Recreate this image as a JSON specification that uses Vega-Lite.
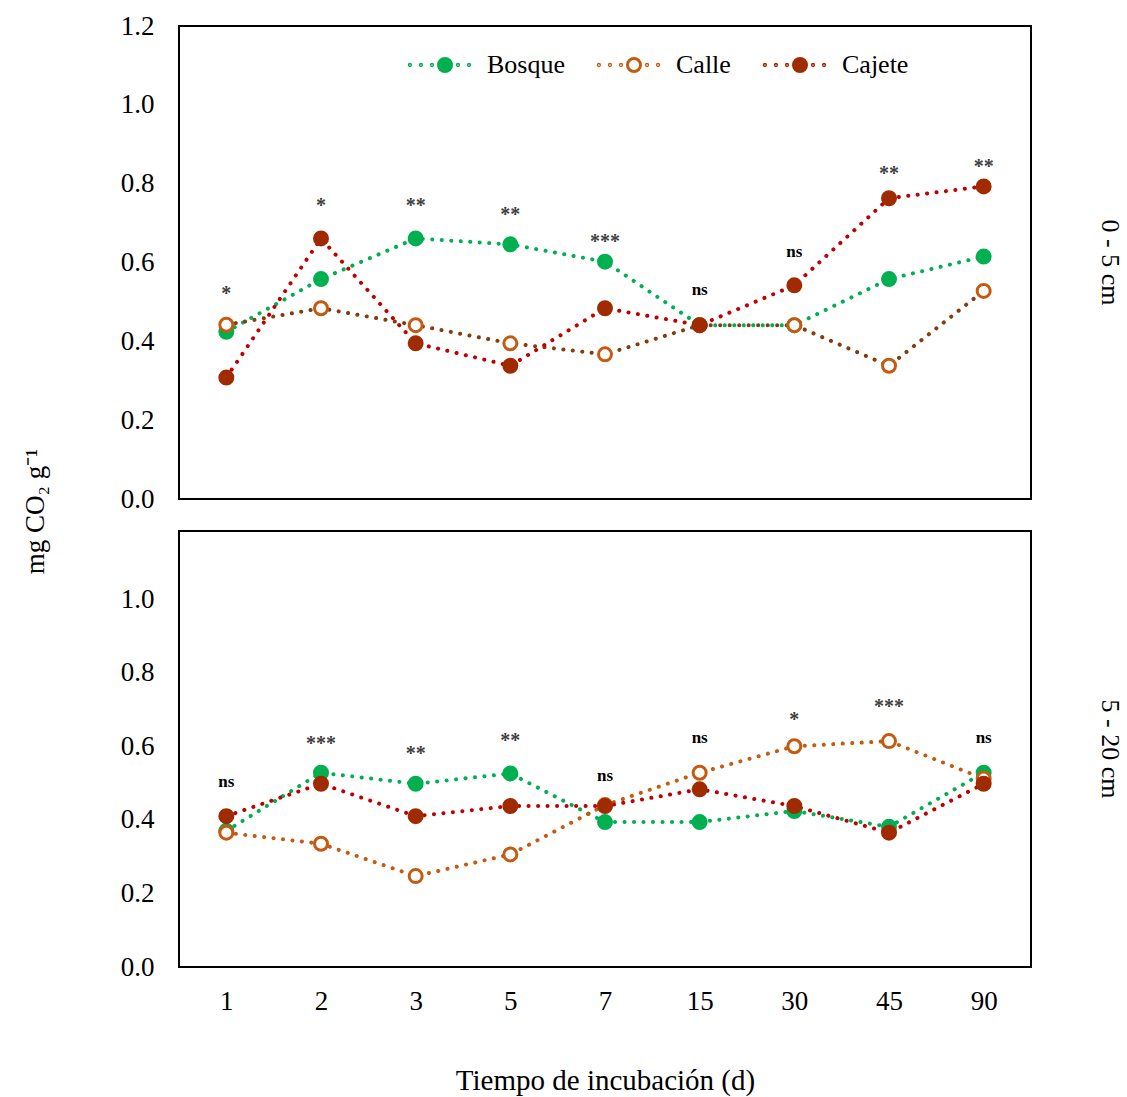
{
  "$schema": "https://vega.github.io/schema/vega-lite/v6.json",
  "background": "white",
  "padding": {"left": 20, "top": 11, "right": 5, "bottom": 5},
  "bounds": "flush",
  "spacing": 32,
  "config": {
    "view": {"stroke": "black", "strokeWidth": 2},
    "font": "Liberation Serif",
    "axis": {"labelFont": "Liberation Serif", "titleFont": "Liberation Serif", "labelColor": "black", "titleColor": "black", "grid": false, "ticks": false, "domain": false, "labelFontSize": 27, "titleFontSize": 27, "titleFontWeight": "normal"},
    "legend": {"orient": "none", "legendX": 253, "legendY": 26, "direction": "horizontal",
               "symbolType": "M-1,0A1,1,0,1,0,1,0A1,1,0,1,0,-1,0Z M-5.5,0A0.1,0.1,0,1,0,-5.3,0A0.1,0.1,0,1,0,-5.5,0Z M-3.8,0A0.1,0.1,0,1,0,-3.6,0A0.1,0.1,0,1,0,-3.8,0Z M-2.1,0A0.1,0.1,0,1,0,-1.9,0A0.1,0.1,0,1,0,-2.1,0Z M1.9,0A0.1,0.1,0,1,0,2.1,0A0.1,0.1,0,1,0,1.9,0Z M3.6,0A0.1,0.1,0,1,0,3.8,0A0.1,0.1,0,1,0,3.6,0Z",
               "symbolSize": 169, "symbolStrokeWidth": 3, "labelFont": "Liberation Serif", "labelFontSize": 26, "labelColor": "black",
               "labelOffset": 29, "columnPadding": 27, "padding": 0, "symbolOpacity": 1}
  },
  "datasets": {
    "series": [
      {"prof": "0 - 5 cm", "dia": 1, "serie": "Bosque", "co2": 0.424},
      {"prof": "0 - 5 cm", "dia": 2, "serie": "Bosque", "co2": 0.558},
      {"prof": "0 - 5 cm", "dia": 3, "serie": "Bosque", "co2": 0.661},
      {"prof": "0 - 5 cm", "dia": 5, "serie": "Bosque", "co2": 0.646},
      {"prof": "0 - 5 cm", "dia": 7, "serie": "Bosque", "co2": 0.602},
      {"prof": "0 - 5 cm", "dia": 15, "serie": "Bosque", "co2": 0.441},
      {"prof": "0 - 5 cm", "dia": 30, "serie": "Bosque", "co2": 0.441},
      {"prof": "0 - 5 cm", "dia": 45, "serie": "Bosque", "co2": 0.558},
      {"prof": "0 - 5 cm", "dia": 90, "serie": "Bosque", "co2": 0.615},
      {"prof": "0 - 5 cm", "dia": 1, "serie": "Calle", "co2": 0.442},
      {"prof": "0 - 5 cm", "dia": 2, "serie": "Calle", "co2": 0.484},
      {"prof": "0 - 5 cm", "dia": 3, "serie": "Calle", "co2": 0.441},
      {"prof": "0 - 5 cm", "dia": 5, "serie": "Calle", "co2": 0.395},
      {"prof": "0 - 5 cm", "dia": 7, "serie": "Calle", "co2": 0.367},
      {"prof": "0 - 5 cm", "dia": 15, "serie": "Calle", "co2": 0.441},
      {"prof": "0 - 5 cm", "dia": 30, "serie": "Calle", "co2": 0.441},
      {"prof": "0 - 5 cm", "dia": 45, "serie": "Calle", "co2": 0.338},
      {"prof": "0 - 5 cm", "dia": 90, "serie": "Calle", "co2": 0.528},
      {"prof": "0 - 5 cm", "dia": 1, "serie": "Cajete", "co2": 0.308},
      {"prof": "0 - 5 cm", "dia": 2, "serie": "Cajete", "co2": 0.661},
      {"prof": "0 - 5 cm", "dia": 3, "serie": "Cajete", "co2": 0.395},
      {"prof": "0 - 5 cm", "dia": 5, "serie": "Cajete", "co2": 0.338},
      {"prof": "0 - 5 cm", "dia": 7, "serie": "Cajete", "co2": 0.484},
      {"prof": "0 - 5 cm", "dia": 15, "serie": "Cajete", "co2": 0.441},
      {"prof": "0 - 5 cm", "dia": 30, "serie": "Cajete", "co2": 0.542},
      {"prof": "0 - 5 cm", "dia": 45, "serie": "Cajete", "co2": 0.763},
      {"prof": "0 - 5 cm", "dia": 90, "serie": "Cajete", "co2": 0.793},
      {"prof": "5 - 20 cm", "dia": 1, "serie": "Bosque", "co2": 0.37},
      {"prof": "5 - 20 cm", "dia": 2, "serie": "Bosque", "co2": 0.528},
      {"prof": "5 - 20 cm", "dia": 3, "serie": "Bosque", "co2": 0.498},
      {"prof": "5 - 20 cm", "dia": 5, "serie": "Bosque", "co2": 0.526},
      {"prof": "5 - 20 cm", "dia": 7, "serie": "Bosque", "co2": 0.394},
      {"prof": "5 - 20 cm", "dia": 15, "serie": "Bosque", "co2": 0.394},
      {"prof": "5 - 20 cm", "dia": 30, "serie": "Bosque", "co2": 0.424},
      {"prof": "5 - 20 cm", "dia": 45, "serie": "Bosque", "co2": 0.381},
      {"prof": "5 - 20 cm", "dia": 90, "serie": "Bosque", "co2": 0.528},
      {"prof": "5 - 20 cm", "dia": 1, "serie": "Calle", "co2": 0.365},
      {"prof": "5 - 20 cm", "dia": 2, "serie": "Calle", "co2": 0.335},
      {"prof": "5 - 20 cm", "dia": 3, "serie": "Calle", "co2": 0.247},
      {"prof": "5 - 20 cm", "dia": 5, "serie": "Calle", "co2": 0.306},
      {"prof": "5 - 20 cm", "dia": 7, "serie": "Calle", "co2": 0.44},
      {"prof": "5 - 20 cm", "dia": 15, "serie": "Calle", "co2": 0.528},
      {"prof": "5 - 20 cm", "dia": 30, "serie": "Calle", "co2": 0.6},
      {"prof": "5 - 20 cm", "dia": 45, "serie": "Calle", "co2": 0.614},
      {"prof": "5 - 20 cm", "dia": 90, "serie": "Calle", "co2": 0.512},
      {"prof": "5 - 20 cm", "dia": 1, "serie": "Cajete", "co2": 0.41},
      {"prof": "5 - 20 cm", "dia": 2, "serie": "Cajete", "co2": 0.498},
      {"prof": "5 - 20 cm", "dia": 3, "serie": "Cajete", "co2": 0.41},
      {"prof": "5 - 20 cm", "dia": 5, "serie": "Cajete", "co2": 0.4375},
      {"prof": "5 - 20 cm", "dia": 7, "serie": "Cajete", "co2": 0.4375},
      {"prof": "5 - 20 cm", "dia": 15, "serie": "Cajete", "co2": 0.483},
      {"prof": "5 - 20 cm", "dia": 30, "serie": "Cajete", "co2": 0.4375},
      {"prof": "5 - 20 cm", "dia": 45, "serie": "Cajete", "co2": 0.365},
      {"prof": "5 - 20 cm", "dia": 90, "serie": "Cajete", "co2": 0.498}
    ],
    "sig": [
      {"prof": "0 - 5 cm", "dia": 1, "label": "*", "pos": 0.533},
      {"prof": "0 - 5 cm", "dia": 2, "label": "*", "pos": 0.756},
      {"prof": "0 - 5 cm", "dia": 3, "label": "**", "pos": 0.756},
      {"prof": "0 - 5 cm", "dia": 5, "label": "**", "pos": 0.733},
      {"prof": "0 - 5 cm", "dia": 7, "label": "***", "pos": 0.665},
      {"prof": "0 - 5 cm", "dia": 15, "label": "ns", "pos": 0.528},
      {"prof": "0 - 5 cm", "dia": 30, "label": "ns", "pos": 0.623},
      {"prof": "0 - 5 cm", "dia": 45, "label": "**", "pos": 0.837},
      {"prof": "0 - 5 cm", "dia": 90, "label": "**", "pos": 0.854},
      {"prof": "5 - 20 cm", "dia": 1, "label": "ns", "pos": 0.5},
      {"prof": "5 - 20 cm", "dia": 2, "label": "***", "pos": 0.619},
      {"prof": "5 - 20 cm", "dia": 3, "label": "**", "pos": 0.593},
      {"prof": "5 - 20 cm", "dia": 5, "label": "**", "pos": 0.628},
      {"prof": "5 - 20 cm", "dia": 7, "label": "ns", "pos": 0.516},
      {"prof": "5 - 20 cm", "dia": 15, "label": "ns", "pos": 0.62},
      {"prof": "5 - 20 cm", "dia": 30, "label": "*", "pos": 0.684},
      {"prof": "5 - 20 cm", "dia": 45, "label": "***", "pos": 0.721},
      {"prof": "5 - 20 cm", "dia": 90, "label": "ns", "pos": 0.62}
    ]
  },
  "resolve": {"scale": {"color": "independent", "y": "independent"}},
  "vconcat": [
    {
      "width": 852,
      "height": 473,
      "title": {"text": "0 - 5 cm", "orient": "right", "anchor": "middle", "angle": 90, "offset": 53, "baseline": "middle", "fontSize": 26, "fontWeight": "normal", "font": "Liberation Serif", "color": "black"},
      "layer": [
        {
          "data": {"name": "series"},
          "transform": [{"filter": "datum.prof == '0 - 5 cm'"}],
          "mark": {"type": "line", "strokeWidth": 4, "strokeDash": [0.1, 9.4], "strokeCap": "round"},
          "encoding": {
            "x": {"field": "dia", "type": "ordinal", "scale": {"type": "point", "padding": 0.5}, "axis": null},
            "y": {"field": "co2", "type": "quantitative", "scale": {"domain": [0, 1.2], "nice": false},
                  "axis": {"values": [0, 0.2, 0.4, 0.6, 0.8, 1.0, 1.2], "format": ".1f", "labelPadding": 25,
                           "title": "mg CO₂ g⁻¹", "titleX": -144, "titleY": 485, "titleAngle": -90, "titleAlign": "center", "titleBaseline": "middle"}},
            "color": {"field": "serie", "type": "nominal", "scale": {"domain": ["Bosque", "Calle", "Cajete"], "range": ["#00B050", "#843C0C", "#C00000"]}, "legend": null}
          }
        },
        {
          "data": {"name": "series"},
          "transform": [{"filter": "datum.prof == '0 - 5 cm'"}],
          "mark": {"type": "point", "shape": "circle", "filled": true, "size": 169, "strokeWidth": 3, "opacity": 1},
          "encoding": {
            "x": {"field": "dia", "type": "ordinal"},
            "y": {"field": "co2", "type": "quantitative"},
            "fill": {"field": "serie", "type": "nominal", "title": null, "scale": {"domain": ["Bosque", "Calle", "Cajete"], "range": ["#00B050", "#FFFFFF", "#A02B00"]}},
            "stroke": {"field": "serie", "type": "nominal", "title": null, "scale": {"domain": ["Bosque", "Calle", "Cajete"], "range": ["#00B050", "#C55A11", "#A02B00"]}}
          }
        },
        {
          "data": {"name": "sig"},
          "transform": [{"filter": "datum.prof == '0 - 5 cm' && datum.label != 'ns'"}],
          "mark": {"type": "text", "font": "Liberation Serif", "fontSize": 20, "fontWeight": "bold", "color": "#404040", "baseline": "middle", "dy": 5},
          "encoding": {
            "x": {"field": "dia", "type": "ordinal"},
            "y": {"field": "pos", "type": "quantitative"},
            "text": {"field": "label"}
          }
        },
        {
          "data": {"name": "sig"},
          "transform": [{"filter": "datum.prof == '0 - 5 cm' && datum.label == 'ns'"}],
          "mark": {"type": "text", "font": "Liberation Serif", "fontSize": 17, "fontWeight": "bold", "color": "black", "baseline": "middle", "dy": -1},
          "encoding": {
            "x": {"field": "dia", "type": "ordinal"},
            "y": {"field": "pos", "type": "quantitative"},
            "text": {"field": "label"}
          }
        }
      ]
    },
    {
      "width": 852,
      "height": 436,
      "title": {"text": "5 - 20 cm", "orient": "right", "anchor": "middle", "angle": 90, "offset": 53, "baseline": "middle", "fontSize": 26, "fontWeight": "normal", "font": "Liberation Serif", "color": "black"},
      "layer": [
        {
          "data": {"name": "series"},
          "transform": [{"filter": "datum.prof == '5 - 20 cm'"}],
          "mark": {"type": "line", "strokeWidth": 4, "strokeDash": [0.1, 9.4], "strokeCap": "round"},
          "encoding": {
            "x": {"field": "dia", "type": "ordinal", "scale": {"type": "point", "padding": 0.5},
                  "axis": {"labelAngle": 0, "labelPadding": 21, "title": "Tiempo de incubación (d)", "titlePadding": 52, "titleFontSize": 29}},
            "y": {"field": "co2", "type": "quantitative", "scale": {"domain": [0, 1.185], "nice": false},
                  "axis": {"values": [0, 0.2, 0.4, 0.6, 0.8, 1.0], "format": ".1f", "labelPadding": 25, "title": null}},
            "color": {"field": "serie", "type": "nominal", "scale": {"domain": ["Bosque", "Calle", "Cajete"], "range": ["#00B050", "#C55A11", "#C00000"]}, "legend": null}
          }
        },
        {
          "data": {"name": "series"},
          "transform": [{"filter": "datum.prof == '5 - 20 cm'"}],
          "mark": {"type": "point", "shape": "circle", "filled": true, "size": 169, "strokeWidth": 3, "opacity": 1},
          "encoding": {
            "x": {"field": "dia", "type": "ordinal"},
            "y": {"field": "co2", "type": "quantitative"},
            "fill": {"field": "serie", "type": "nominal", "title": null, "scale": {"domain": ["Bosque", "Calle", "Cajete"], "range": ["#00B050", "#FFFFFF", "#A02B00"]}},
            "stroke": {"field": "serie", "type": "nominal", "title": null, "scale": {"domain": ["Bosque", "Calle", "Cajete"], "range": ["#00B050", "#C55A11", "#A02B00"]}}
          }
        },
        {
          "data": {"name": "sig"},
          "transform": [{"filter": "datum.prof == '5 - 20 cm' && datum.label != 'ns'"}],
          "mark": {"type": "text", "font": "Liberation Serif", "fontSize": 20, "fontWeight": "bold", "color": "#404040", "baseline": "middle", "dy": 5},
          "encoding": {
            "x": {"field": "dia", "type": "ordinal"},
            "y": {"field": "pos", "type": "quantitative"},
            "text": {"field": "label"}
          }
        },
        {
          "data": {"name": "sig"},
          "transform": [{"filter": "datum.prof == '5 - 20 cm' && datum.label == 'ns'"}],
          "mark": {"type": "text", "font": "Liberation Serif", "fontSize": 17, "fontWeight": "bold", "color": "black", "baseline": "middle", "dy": -1},
          "encoding": {
            "x": {"field": "dia", "type": "ordinal"},
            "y": {"field": "pos", "type": "quantitative"},
            "text": {"field": "label"}
          }
        }
      ]
    }
  ]
}
